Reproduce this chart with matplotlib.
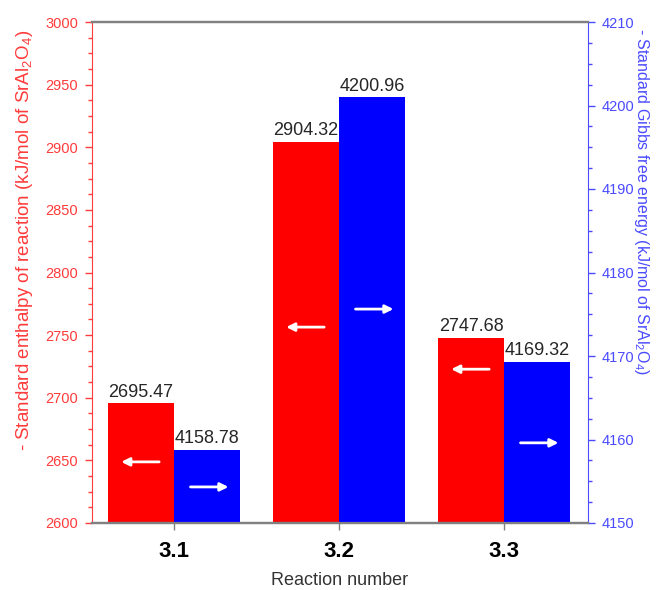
import matplotlib
matplotlib.use('Agg')
from matplotlib import pyplot as plt
from matplotlib import transforms
from matplotlib.ticker import MultipleLocator
import numpy as np

plt.rcParams['font.family'] = ['Liberation Sans', 'DejaVu Sans']
plt.rcParams['mathtext.fontset'] = 'custom'
plt.rcParams['mathtext.rm'] = 'Liberation Sans'
plt.rcParams['mathtext.it'] = 'Liberation Sans:italic'

reactions = ['3.1', '3.2', '3.3']
enthalpy = [2695.47, 2904.32, 2747.68]
gibbs = [4158.78, 4200.96, 4169.32]

# arrow heights (axes fraction) inside each bar
arrow_y_red = [0.122, 0.391, 0.307]
arrow_y_blue = [0.072, 0.427, 0.160]

RED = '#ff0000'
BLUE = '#0000ff'
AX_RED = '#ff3b3b'
AX_BLUE = '#4a4aff'
GRAY = '#808080'
WIDTH = 0.4

fig = plt.figure(figsize=(6.61, 5.90), dpi=100)
ax = fig.add_axes([92 / 661, 1 - 523 / 590, (588 - 92) / 661, (523 - 22) / 590])
ax2 = ax.twinx()

xs = np.arange(1, len(reactions) + 1)

ax.bar(xs - WIDTH, enthalpy, width=WIDTH, align='edge', color=RED, zorder=2)
ax2.bar(xs, gibbs, width=WIDTH, align='edge', color=BLUE, zorder=2)

for x, v in zip(xs, enthalpy):
  ax.annotate('%.2f' % v, xy=(x - WIDTH / 2, v), xytext=(0, 2), textcoords='offset points',
              ha='center', va='bottom', fontsize=13, color='#262626')
for x, v in zip(xs, gibbs):
  ax2.annotate('%.2f' % v, xy=(x + WIDTH / 2, v), xytext=(0, 2), textcoords='offset points',
               ha='center', va='bottom', fontsize=13, color='#262626')

trans = transforms.blended_transform_factory(ax2.transData, ax2.transAxes)
arrow_props = dict(arrowstyle='-|>', color='white', lw=2, mutation_scale=12,
                   shrinkA=0, shrinkB=0)
for x, yr, yb in zip(xs, arrow_y_red, arrow_y_blue):
  ax2.annotate('', xy=(x - 0.32, yr), xytext=(x - 0.09, yr), xycoords=trans,
               textcoords=trans, arrowprops=arrow_props, zorder=5)
  ax2.annotate('', xy=(x + 0.33, yb), xytext=(x + 0.10, yb), xycoords=trans,
               textcoords=trans, arrowprops=arrow_props, zorder=5)

ax.set_xlim(0.503, 3.509)
ax.set_ylim(2600, 3000)
ax2.set_ylim(4150, 4210)

ax.set_xticks(xs)
ax.set_xticklabels(reactions, fontsize=16, fontweight='bold')
ax.tick_params(axis='x', direction='out', length=5, width=1, color=GRAY, pad=8)

ax.yaxis.set_major_locator(MultipleLocator(50))
ax.yaxis.set_minor_locator(MultipleLocator(12.5))
ax2.yaxis.set_major_locator(MultipleLocator(10))
ax2.yaxis.set_minor_locator(MultipleLocator(2.5))

ax.tick_params(axis='y', which='major', direction='out', length=5, width=1, pad=5,
               color=AX_RED, labelcolor=AX_RED, labelsize=10.5)
ax.tick_params(axis='y', which='minor', direction='out', length=3, width=1, color=AX_RED)
ax2.tick_params(axis='y', which='major', direction='out', length=5, width=1, pad=5,
                color=AX_BLUE, labelcolor=AX_BLUE, labelsize=10.5)
ax2.tick_params(axis='y', which='minor', direction='out', length=3, width=1, color=AX_BLUE)

for a in (ax, ax2):
  a.spines['top'].set_color(GRAY)
  a.spines['bottom'].set_color(GRAY)
  a.spines['top'].set_linewidth(1.6)
  a.spines['bottom'].set_linewidth(1.6)
ax.spines['left'].set_color(AX_RED)
ax.spines['right'].set_visible(False)
ax2.spines['left'].set_visible(False)
ax2.spines['right'].set_color(AX_BLUE)

ax.set_xlabel('Reaction number', fontsize=13, color='#333333', labelpad=7)

fig.text(25 / 661, 1 - 30 / 590, r'- Standard enthalpy of reaction (kJ/mol of SrAl$_2$O$_4$)',
         rotation=90, ha='center', va='top', fontsize=13.5, color=AX_RED)
fig.text(641 / 661, 1 - 28 / 590, r'- Standard Gibbs free energy (kJ/mol of SrAl$_2$O$_4$)',
         rotation=270, ha='center', va='top', fontsize=11.5, color=AX_BLUE)

fig.savefig('out.png', dpi=100)
